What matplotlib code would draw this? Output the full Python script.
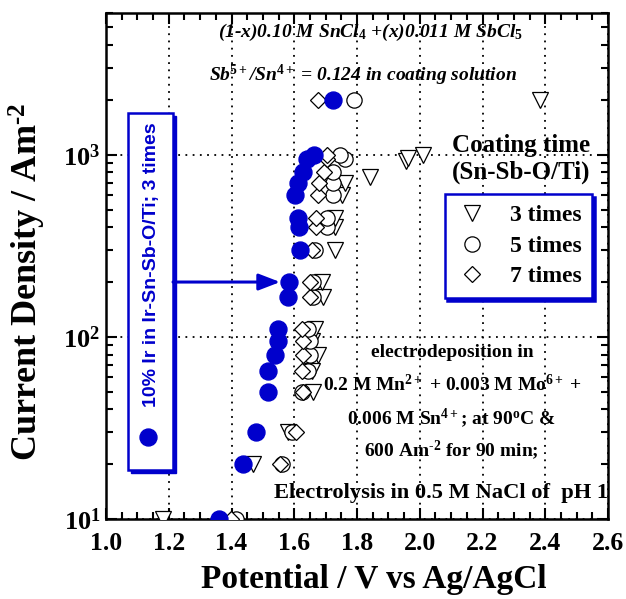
import matplotlib
matplotlib.use("Agg")
import matplotlib.pyplot as plt
from matplotlib.lines import Line2D
from matplotlib.patches import Rectangle
from matplotlib.ticker import MultipleLocator, LogLocator, LogFormatterMathtext, NullFormatter

plt.rcParams["font.family"] = "Liberation Serif"
plt.rcParams["font.weight"] = "bold"
plt.rcParams["mathtext.fontset"] = "custom"
plt.rcParams["mathtext.rm"] = "Liberation Serif:bold"
plt.rcParams["mathtext.bf"] = "Liberation Serif:bold"
plt.rcParams["mathtext.it"] = "Liberation Serif:bold:italic"
plt.rcParams["mathtext.default"] = "bf"

BLUE = "#0000cc"

# Polarization data: current density (A m^-2) vs potential (V vs Ag/AgCl)
ir_potential = [1.360, 1.437, 1.478, 1.517, 1.517, 1.539, 1.548, 1.548, 1.580, 1.583,
                1.618, 1.616, 1.612, 1.602, 1.612, 1.627, 1.640, 1.662, 1.723]
ir_current = [10, 20, 30, 50, 65, 80, 95, 110, 165, 200,
              300, 400, 450, 600, 700, 800, 950, 1000, 2000]

t3_potential = [1.181, 1.468, 1.580, 1.660, 1.657, 1.675, 1.655, 1.666, 1.692, 1.689,
                1.730, 1.730, 1.730, 1.752, 1.761, 1.841, 1.956, 1.963, 2.010, 2.383]
t3_current = [10, 20, 30, 50, 65, 80, 95, 110, 165, 200,
              300, 400, 450, 600, 700, 750, 920, 960, 1000, 2000]

t5_potential = [1.413, 1.561, 1.594, 1.624, 1.645, 1.650, 1.650, 1.645, 1.660, 1.660,
                1.666, 1.705, 1.705, 1.723, 1.725, 1.723, 1.761, 1.745, 1.791]
t5_current = [10, 20, 30, 50, 65, 80, 95, 110, 165, 200,
              300, 400, 450, 600, 700, 800, 950, 1000, 2000]

t7_potential = [1.398, 1.554, 1.604, 1.629, 1.624, 1.627, 1.629, 1.624, 1.651, 1.651,
                1.655, 1.670, 1.670, 1.675, 1.680, 1.695, 1.705, 1.705, 1.676]
t7_current = [10, 20, 30, 50, 65, 80, 95, 110, 165, 200,
              300, 400, 450, 600, 700, 800, 950, 1000, 2000]

legend_labels = ["3 times", "5 times", "7 times"]

fig = plt.figure(figsize=(6.26, 5.99), dpi=100)
ax = fig.add_axes([106 / 626, 80 / 599, 502 / 626, 506 / 599])

ax.set_xscale("linear")
ax.set_yscale("log")
ax.set_xlim(1.0, 2.6)
ax.set_ylim(10, 6000)

mk = dict(linestyle="none", markerfacecolor="white", markeredgecolor="black",
          markeredgewidth=0.9)
ax.plot(t3_potential, t3_current, marker="v", markersize=11.5, zorder=3, **mk)
ax.plot(t5_potential, t5_current, marker="o", markersize=11, zorder=4, **mk)
ax.plot(t7_potential, t7_current, marker="D", markersize=8.2, zorder=5, **mk)
ax.plot(ir_potential, ir_current, linestyle="none", marker="o", markersize=12.2,
        markerfacecolor=BLUE, markeredgecolor=BLUE, zorder=6)

# axes, ticks and grid
for sp in ax.spines.values():
    sp.set_linewidth(1.8)
ax.xaxis.set_major_locator(MultipleLocator(0.2))
ax.xaxis.set_minor_locator(MultipleLocator(0.05))
ax.xaxis.set_major_formatter(plt.FuncFormatter(lambda v, p: f"{v:.1f}"))
ax.yaxis.set_major_locator(LogLocator(base=10, numticks=10))
ax.yaxis.set_minor_locator(LogLocator(base=10, subs=range(2, 10), numticks=10))
ax.yaxis.set_major_formatter(LogFormatterMathtext())
ax.yaxis.set_minor_formatter(NullFormatter())
ax.tick_params(which="both", direction="in", top=True, right=True, width=1.5)
ax.tick_params(which="major", length=8)
ax.tick_params(which="minor", length=5)
ax.tick_params(axis="x", labelsize=18.5, pad=9)
ax.tick_params(axis="y", labelsize=19, pad=4)
ax.grid(True, which="major", linestyle=(0, (1, 3)), color="black", linewidth=1.3)

ax.set_xlabel("Potential / V vs Ag/AgCl", fontsize=24, fontweight="bold")
ax.set_ylabel(r"Current Density / Am$^{\text{-2}}$", fontsize=26, fontweight="bold")
ax.xaxis.set_label_coords(0.534, -0.088)
ax.yaxis.set_label_coords(-0.115, 0.468)

# coating solution notes
ax.text(0.526, 0.962, r"(1-x)0.10 M SnCl$_{\mathit{4}}$ +(x)0.011 M SbCl$_{\mathit{5}}$",
        transform=ax.transAxes, ha="center", va="center", fontsize=14, style="italic")
ax.text(0.512, 0.877, r"Sb$^{\mathit{5+}}$/Sn$^{\mathit{4+}}$ = 0.124 in coating solution",
        transform=ax.transAxes, ha="center", va="center", fontsize=14, style="italic")

# legend
ax.text(0.827, 0.739, "Coating time", transform=ax.transAxes, ha="center",
        va="center", fontsize=18)
ax.text(0.827, 0.686, "(Sn-Sb-O/Ti)", transform=ax.transAxes, ha="center",
        va="center", fontsize=18)
handles = [
    Line2D([], [], marker="v", markersize=11.5, **mk),
    Line2D([], [], marker="o", markersize=11, **mk),
    Line2D([], [], marker="D", markersize=8.2, **mk),
]
leg = ax.legend(handles, legend_labels, loc="upper right", bbox_to_anchor=(0.968, 0.642),
                borderaxespad=0, fontsize=17, frameon=True, fancybox=False,
                edgecolor=BLUE, framealpha=1, labelspacing=0.38, handletextpad=0.9,
                handlelength=1.4, borderpad=0.45,
                shadow={"color": BLUE, "alpha": 1})
leg.get_frame().set_linewidth(1.8)
leg.set_zorder(10)

# electrodeposition notes
notes = [
    (0.330, "electrodeposition in"),
    (0.265, r"0.2 M Mn$^{2+}$ + 0.003 M Mo$^{6+}$ +"),
    (0.200, r"0.006 M Sn$^{4+}$; at 90$^{\mathrm{o}}$C &"),
    (0.136, r"600 Am$^{\text{-2}}$ for 90 min;"),
]
for y, s in notes:
    ax.text(0.689, y, s, transform=ax.transAxes, ha="center", va="center", fontsize=14)
ax.text(0.667, 0.051, "Electrolysis in 0.5 M NaCl of  pH 1", transform=ax.transAxes,
        ha="center", va="center", fontsize=16.2)

# Ir-doped electrode callout box
x0, x1 = 0.0438, 0.1335
y0, y1 = 0.0968, 0.8024
sh = 0.006
ax.add_patch(Rectangle((x0 + sh, y0 - sh), x1 - x0, y1 - y0, transform=ax.transAxes,
                       facecolor=BLUE, edgecolor=BLUE, zorder=8))
ax.add_patch(Rectangle((x0, y0), x1 - x0, y1 - y0, transform=ax.transAxes,
                       facecolor="white", edgecolor=BLUE, linewidth=1.8, zorder=9))
ax.text(0.0916, 0.502, "10% Ir in Ir-Sn-Sb-O/Ti; 3 times", transform=ax.transAxes,
        rotation=90, ha="center", va="center", color=BLUE, fontsize=14,
        family="Liberation Sans", fontweight="bold", zorder=10)
ax.plot([0.0837], [0.162], transform=ax.transAxes, marker="o", markersize=12.2,
        color=BLUE, zorder=10, clip_on=False)
ax.annotate("", xy=(1.555, 200), xycoords="data", xytext=(1.0 + x1 * 1.6, 200),
            textcoords="data",
            arrowprops=dict(arrowstyle="-|>,head_length=1.3,head_width=0.5",
                            color=BLUE, lw=2.2, shrinkA=0, shrinkB=0), zorder=10)

fig.savefig("out.png", dpi=100)
